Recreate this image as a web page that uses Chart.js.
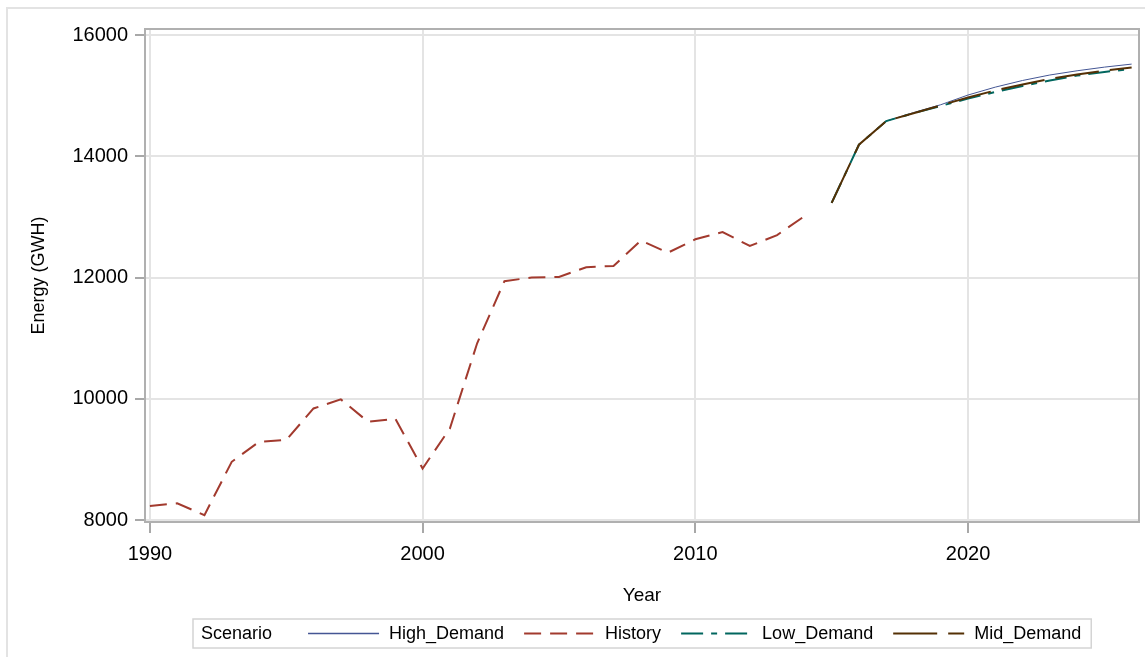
<!DOCTYPE html>
<html>
<head>
<meta charset="utf-8">
<title>Energy (GWH) by Scenario</title>
<script src="https://cdn.jsdelivr.net/npm/chart.js@4.4.1/dist/chart.umd.min.js"></script>
<style>
    body { margin: 0; background: #fff; }
    #wrap { position: relative; width: 1145px; height: 657px; overflow: hidden; }
    #frame { position: absolute; left: 6px; top: 7px; width: 2000px; height: 2000px; border: 2px solid #e3e3e3; }
    #energyChart { position: absolute; left: 0; top: 0; }
</style>
</head>
<body>
<div id="wrap">
    <div id="frame"></div>
    <canvas id="energyChart" width="1145" height="657"></canvas>
</div>
<script>
// History
const historyYears = [1990, 1991, 1992, 1993, 1994, 1995, 1996, 1997, 1998, 1999, 2000, 2001, 2002,
    2003, 2004, 2005, 2006, 2007, 2008, 2009, 2010, 2011, 2012, 2013, 2014];
const historyEnergy = [8230, 8275, 8080, 8960, 9290, 9320, 9840, 9990, 9620, 9670, 8850, 9510, 10915,
    11940, 12000, 12010, 12170, 12190, 12610, 12410, 12630, 12750, 12520, 12700, 13010];

// Forecast scenarios
const forecastYears = [2015, 2016, 2017, 2018, 2019, 2020, 2021, 2022, 2023, 2024, 2025, 2026];
const highDemand = [13230, 14190, 14580, 14720, 14850, 15010, 15140, 15250, 15340, 15410, 15470, 15520];
const lowDemand = [13230, 14190, 14580, 14710, 14830, 14950, 15060, 15160, 15250, 15330, 15390, 15440];
const midDemand = [13230, 14190, 14580, 14710, 14840, 14970, 15085, 15185, 15275, 15350, 15410, 15465];

// Axis ticks
const yearTicks = [1990, 2000, 2010, 2020];
const energyTicks = [8000, 10000, 12000, 14000, 16000];

const ctx = document.getElementById('energyChart');
const fontFamily = '"Liberation Sans", Arial, sans-serif';

// pair up years and values for the linear x axis
function toPoints(xs, ys) {
    return xs.map((x, i) => ({ x: x, y: ys[i] }));
}

// Gray box round the plot area (top and right sides, axes draw the other two)
const plotFrame = {
    id: 'plotFrame',
    beforeDatasetsDraw(chart) {
        const a = chart.chartArea;
        const c = chart.ctx;
        c.save();
        c.strokeStyle = '#b0b0b0';
        c.lineWidth = 2;
        c.beginPath();
        c.moveTo(a.left, a.top);
        c.lineTo(a.right, a.top);
        c.lineTo(a.right, a.bottom);
        c.stroke();
        c.restore();
    }
};

// Legend in one row with a "Scenario" title, like the SAS one
const scenarioLegend = {
    id: 'scenarioLegend',
    afterDraw(chart) {
        const c = chart.ctx;
        const a = chart.chartArea;
        const sets = chart.data.datasets;
        const sampleW = 71;
        const textGap = 10;
        const itemGap = 20;
        const titleGap = 36;
        const pad = 8;
        c.save();
        c.font = '18px ' + fontFamily;
        c.textBaseline = 'middle';
        const titleW = c.measureText('Scenario').width;
        let total = pad + titleW + titleGap;
        sets.forEach((ds, i) => {
            total += sampleW + textGap + c.measureText(ds.label).width;
            if (i < sets.length - 1) total += itemGap;
        });
        total += pad + 2;
        const left = Math.round((a.left + a.right) / 2 - total / 2);
        const top = 619;
        const h = 29;
        const mid = top + h / 2;

        c.strokeStyle = '#d4d4d4';
        c.lineWidth = 1.5;
        c.strokeRect(left, top, total, h);

        c.fillStyle = '#000';
        let x = left + pad;
        c.fillText('Scenario', x, mid + 1);
        x += titleW + titleGap;
        sets.forEach(ds => {
            c.strokeStyle = ds.borderColor;
            c.lineWidth = Math.max(ds.borderWidth, 1.5);
            c.setLineDash(ds.borderDash || []);
            c.beginPath();
            c.moveTo(x, mid);
            c.lineTo(x + sampleW, mid);
            c.stroke();
            c.setLineDash([]);
            x += sampleW + textGap;
            c.fillText(ds.label, x, mid + 1);
            x += c.measureText(ds.label).width + itemGap;
        });
        c.restore();
    }
};

const config = {
    type: 'line',
    data: {
        datasets: [
            {
                label: 'High_Demand',
                data: toPoints(forecastYears, highDemand),
                borderColor: '#445694',
                borderWidth: 1,
                order: 3
            },
            {
                label: 'History',
                data: toPoints(historyYears, historyEnergy),
                borderColor: '#A23A2E',
                borderWidth: 2,
                borderDash: [17, 9],
                order: 2
            },
            {
                label: 'Low_Demand',
                data: toPoints(forecastYears, lowDemand),
                borderColor: '#01665E',
                borderWidth: 2,
                borderDash: [22, 8, 6, 8],
                order: 1
            },
            {
                label: 'Mid_Demand',
                data: toPoints(forecastYears, midDemand),
                borderColor: '#543005',
                borderWidth: 2,
                borderDash: [44, 11],
                order: 0
            }
        ]
    },
    options: {
        responsive: false,
        animation: false,
        elements: {
            point: { radius: 0 },
            line: { tension: 0, fill: false }
        },
        layout: {
            padding: { left: 28, top: 29, right: 6, bottom: 50 }
        },
        plugins: {
            legend: { display: false },
            tooltip: { enabled: false }
        },
        scales: {
            x: {
                type: 'linear',
                min: 1989.82,
                max: 2026.27,
                afterBuildTicks: scale => {
                    scale.ticks = yearTicks.map(v => ({ value: v }));
                },
                afterFit: scale => {
                    scale.height = 85;
                },
                ticks: {
                    color: '#000',
                    font: { family: fontFamily, size: 20 },
                    padding: 9,
                    maxRotation: 0,
                    callback: v => String(v)
                },
                grid: {
                    color: '#e4e4e4',
                    lineWidth: 2,
                    tickLength: 11,
                    tickColor: '#a8a8a8',
                    tickWidth: 2
                },
                border: { display: true, color: '#b0b0b0', width: 2 },
                title: {
                    display: true,
                    text: 'Year',
                    color: '#000',
                    font: { family: fontFamily, size: 19 },
                    padding: { top: 11, bottom: 0 }
                }
            },
            y: {
                min: 7967,
                max: 16099,
                afterBuildTicks: scale => {
                    scale.ticks = energyTicks.map(v => ({ value: v }));
                },
                afterFit: scale => {
                    scale.width = 117;
                },
                ticks: {
                    color: '#000',
                    font: { family: fontFamily, size: 20 },
                    padding: 7,
                    callback: v => String(v)
                },
                grid: {
                    color: '#e4e4e4',
                    lineWidth: 2,
                    tickLength: 10,
                    tickColor: '#a8a8a8',
                    tickWidth: 2
                },
                border: { display: true, color: '#b0b0b0', width: 2 },
                title: {
                    display: true,
                    text: 'Energy (GWH)',
                    color: '#000',
                    font: { family: fontFamily, size: 18 },
                    padding: { top: 0, bottom: 10 }
                }
            }
        }
    },
    plugins: [plotFrame, scenarioLegend]
};

const chart = new Chart(ctx, config);
</script>
</body>
</html>
